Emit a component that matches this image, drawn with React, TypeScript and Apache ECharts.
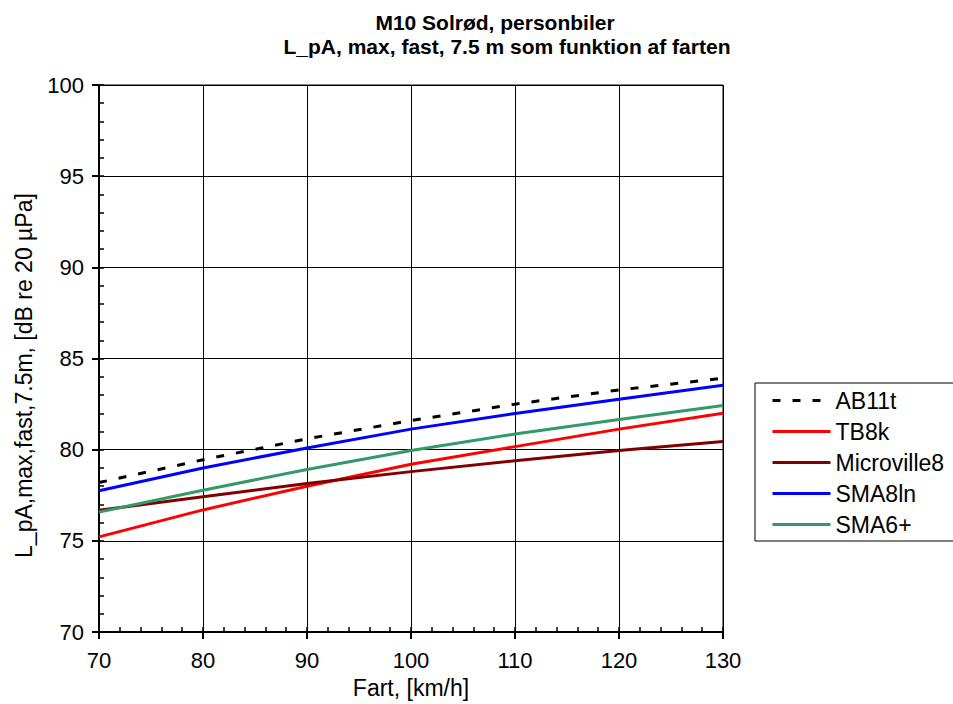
import React, { useEffect, useRef } from "react";
import * as echarts from "echarts";

const speeds = [70, 80, 90, 100, 110, 120, 130];
const seriesNames = ["AB11t", "TB8k", "Microville8", "SMA8ln", "SMA6+"];
const ab11t = [78.2, 79.45, 80.6, 81.6, 82.5, 83.28, 83.92];
const tb8k = [75.22, 76.7, 78.0, 79.2, 80.17, 81.13, 82.0];
const microville8 = [76.68, 77.42, 78.15, 78.8, 79.4, 79.96, 80.45];
const sma8ln = [77.75, 79.0, 80.1, 81.13, 81.99, 82.77, 83.53];
const sma6plus = [76.58, 77.78, 78.92, 79.96, 80.86, 81.66, 82.42];

const FONT = "'Liberation Sans', Arial, sans-serif";

export default function App() {
  const ref = useRef<HTMLDivElement>(null);
  useEffect(() => {
    if (!ref.current) return;
    const chart = echarts.init(ref.current, undefined, { renderer: "svg" });
    const values = [ab11t, tb8k, microville8, sma8ln, sma6plus];
    const colors = ["#000000", "#FF0000", "#800000", "#0000FF", "#339966"];
    const series = seriesNames.map((name, k) => ({
      name,
      type: "line",
      xAxisIndex: 0,
      yAxisIndex: 0,
      data: speeds.map((s, i) => [s, values[k][i]]),
      symbol: "none",
      smooth: false,
      z: k === 0 ? 6 : 3,
      lineStyle: {
        color: colors[k],
        width: 3,
        type: k === 0 ? [8, 12] : "solid",
        cap: "butt",
      },
      itemStyle: { color: colors[k] },
    }));
    const tickLine = { color: "#000", width: 2 };
    const minorLine = { color: "#000", width: 1.5 };
    chart.setOption({
      animation: false,
      backgroundColor: "#fff",
      textStyle: { fontFamily: FONT },
      title: [
        {
          text: "M10 Solrød, personbiler",
          left: 495,
          top: 12,
          textAlign: "center",
          padding: 0,
          textStyle: { fontSize: 21, lineHeight: 20, fontWeight: "bold", color: "#000", fontFamily: FONT },
        },
        {
          text: "L_pA, max, fast, 7.5 m som funktion af farten",
          left: 507,
          top: 36,
          textAlign: "center",
          padding: 0,
          textStyle: { fontSize: 21, lineHeight: 20, fontWeight: "bold", color: "#000", fontFamily: FONT },
        },
      ],
      grid: {
        left: 99,
        right: 230,
        top: 85,
        bottom: 68,
        show: true,
        borderColor: "#000",
        borderWidth: 1,
        containLabel: false,
      },
      legend: {
        orient: "vertical",
        left: 755,
        top: 383,
        padding: [6, 15, 5, 16],
        itemWidth: 58,
        itemHeight: 20,
        itemGap: 8,
        borderColor: "#000",
        borderWidth: 1,
        backgroundColor: "#fff",
        itemStyle: { opacity: 0, borderWidth: 0 },
        lineStyle: { width: 3 },
        textStyle: { fontSize: 23, color: "#000", fontFamily: FONT },
        data: seriesNames,
      },
      xAxis: [
        {
          type: "value",
          min: 70,
          max: 130,
          interval: 10,
          position: "bottom",
          axisLine: { show: true, onZero: false, lineStyle: tickLine },
          axisTick: { show: true, inside: false, length: 7, lineStyle: tickLine },
          axisLabel: { color: "#000", fontSize: 22, margin: 17, fontFamily: FONT },
          splitLine: { show: true, lineStyle: { color: "#000", width: 1 } },
          name: "Fart, [km/h]",
          nameLocation: "middle",
          nameGap: 39,
          nameTextStyle: { color: "#000", fontSize: 23, fontFamily: FONT },
        },
        {
          type: "value",
          min: 70,
          max: 130,
          interval: 2,
          position: "bottom",
          axisLine: { show: false, onZero: false },
          axisTick: { show: true, inside: true, length: 5, lineStyle: minorLine },
          axisLabel: { show: false },
          splitLine: { show: false },
        },
      ],
      yAxis: [
        {
          type: "value",
          min: 70,
          max: 100,
          interval: 5,
          position: "left",
          axisLine: { show: true, onZero: false, lineStyle: tickLine },
          axisTick: { show: true, inside: false, length: 7, lineStyle: tickLine },
          axisLabel: { color: "#000", fontSize: 22, margin: 15, fontFamily: FONT },
          splitLine: { show: true, lineStyle: { color: "#000", width: 1 } },
          name: "L_pA,max,fast,7.5m, [dB re 20 µPa]",
          nameLocation: "middle",
          nameGap: 64,
          nameTextStyle: { color: "#000", fontSize: 23, fontFamily: FONT, padding: [0, 34, 0, 0] },
        },
        {
          type: "value",
          min: 70,
          max: 100,
          interval: 1,
          position: "left",
          axisLine: { show: false, onZero: false },
          axisTick: { show: true, inside: true, length: 5, lineStyle: minorLine },
          axisLabel: { show: false },
          splitLine: { show: false },
        },
      ],
      series,
    });
    return () => chart.dispose();
  }, []);
  return (
    <div
      ref={ref}
      style={{ position: "fixed", left: 0, top: 0, width: 953, height: 704 }}
    />
  );
}
